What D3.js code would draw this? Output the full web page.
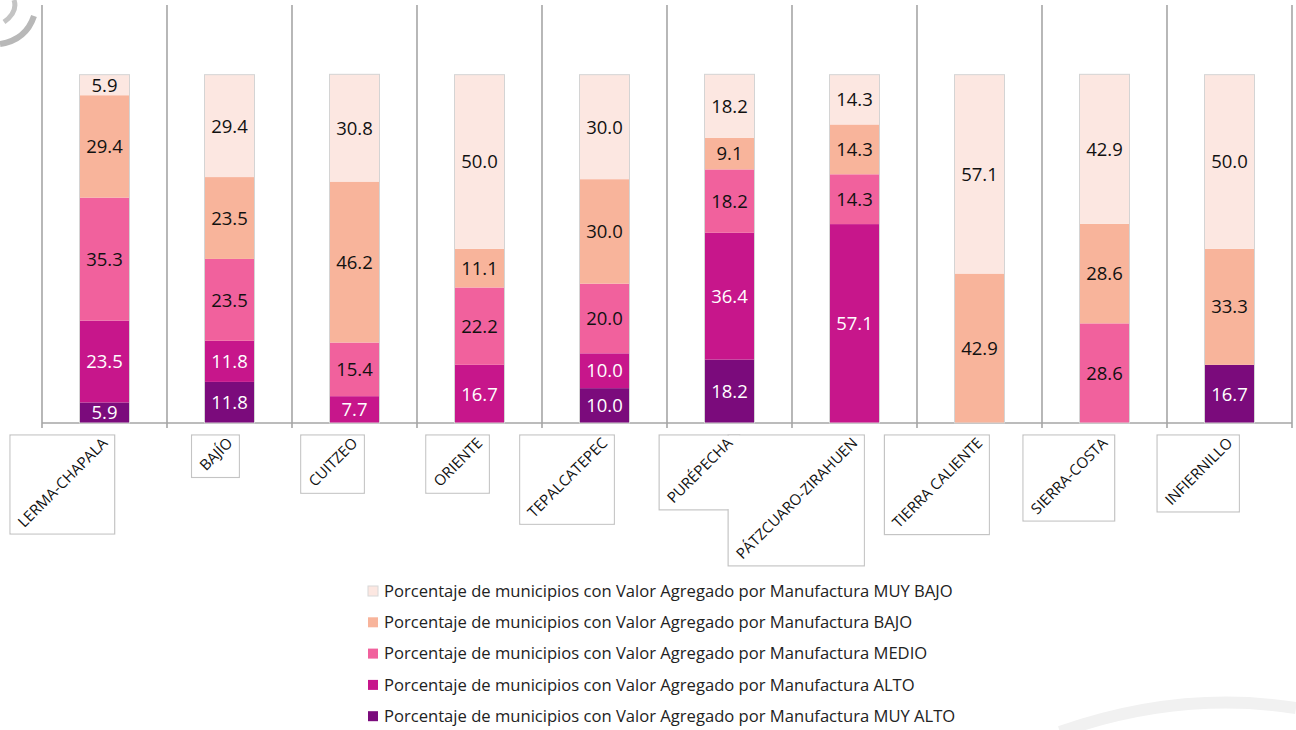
<!DOCTYPE html>
<html>
<head>
<meta charset="utf-8">
<script src="https://cdn.jsdelivr.net/npm/d3@7"></script>
<style>
  body { margin: 0; background: #ffffff; }
  svg { display: block; }
</style>
</head>
<body>
<svg id="chart" width="1296" height="730"></svg>
<script>
// Regions of Michoacán and share of municipalities (%) by manufacturing value-added level
const regions = ["LERMA-CHAPALA", "BAJÍO", "CUITZEO", "ORIENTE", "TEPALCATEPEC",
                 "PURÉPECHA", "PÁTZCUARO-ZIRAHUEN", "TIERRA CALIENTE", "SIERRA-COSTA", "INFIERNILLO"];
const muyAlto = [5.9, 11.8, 0, 0, 10.0, 18.2, 0, 0, 0, 16.7];
const alto    = [23.5, 11.8, 7.7, 16.7, 10.0, 36.4, 57.1, 0, 0, 0];
const medio   = [35.3, 23.5, 15.4, 22.2, 20.0, 18.2, 14.3, 0, 28.6, 0];
const bajo    = [29.4, 23.5, 46.2, 11.1, 30.0, 9.1, 14.3, 42.9, 28.6, 33.3];
const muyBajo = [5.9, 29.4, 30.8, 50.0, 30.0, 18.2, 14.3, 57.1, 42.9, 50.0];

const levels = ["MUY ALTO", "ALTO", "MEDIO", "BAJO", "MUY BAJO"];
const levelColors = ["#7b0b7c", "#c7168b", "#f1619d", "#f8b49b", "#fce7e1"];
const labelInk = ["#ffffff", "#ffffff", "#111111", "#111111", "#111111"];
const legendPrefix = "Porcentaje de municipios con Valor Agregado por Manufactura ";

const rows = regions.map((r, i) => ({
  region: r,
  "MUY ALTO": muyAlto[i], "ALTO": alto[i], "MEDIO": medio[i], "BAJO": bajo[i], "MUY BAJO": muyBajo[i]
}));

const svg = d3.select("#chart");
const FONT = "'Open Sans', 'Noto Sans', sans-serif";

const x = d3.scaleBand().domain(regions).range([42, 1292]).paddingInner(0.6).paddingOuter(0.3);
const y = d3.scaleLinear().domain([0, 120]).range([423, 5]);
const color = d3.scaleOrdinal().domain(levels).range(levelColors);
const ink = d3.scaleOrdinal().domain(levels).range(labelInk);

// faint decorative marks (corner emblem and background swoosh)
const deco = svg.append("g").attr("fill", "none");
deco.append("path").attr("d", "M1060,732 Q1180,690 1296,708")
  .attr("stroke", "#f1f1f1").attr("stroke-width", 12);
deco.append("path").attr("d", "M0,44 Q26,40 34,16").attr("stroke", "#b8b8b8").attr("stroke-width", 6);
deco.append("path").attr("d", "M4,22 Q18,12 14,0").attr("stroke", "#c4c4c4").attr("stroke-width", 5);

// vertical category separators, extending below the baseline as ticks
const step = x.step();
const bounds = d3.range(regions.length + 1).map(i => x.range()[0] + i * step);
svg.append("g").selectAll("line").data(bounds).join("line")
  .attr("x1", d => d).attr("x2", d => d)
  .attr("y1", y(120)).attr("y2", y(0) + 5)
  .attr("stroke", "#a6a6a6").attr("stroke-width", 1.6);

// baseline
svg.append("line")
  .attr("x1", x.range()[0]).attr("x2", x.range()[1])
  .attr("y1", y(0)).attr("y2", y(0))
  .attr("stroke", "#a6a6a6").attr("stroke-width", 1.6);

// stacked bars
const series = d3.stack().keys(levels)(rows);
svg.append("g").selectAll("g").data(series).join("g")
  .attr("fill", d => color(d.key))
  .selectAll("rect").data(d => d).join("rect")
  .attr("x", d => x(d.data.region))
  .attr("width", x.bandwidth())
  .attr("y", d => y(d[1]))
  .attr("height", d => y(d[0]) - y(d[1]));

// bar outlines
const total = d => levels.reduce((s, k) => s + d[k], 0);
svg.append("g").selectAll("rect").data(rows).join("rect")
  .attr("x", d => x(d.region))
  .attr("width", x.bandwidth())
  .attr("y", d => y(total(d)))
  .attr("height", d => y(0) - y(total(d)))
  .attr("fill", "none").attr("stroke", "#d4d4d4").attr("stroke-width", 1);

// value labels
const gVals = svg.append("g").attr("font-family", FONT).attr("font-size", 18.5).attr("text-anchor", "middle");
series.forEach(s => {
  gVals.selectAll(null).data(s.filter(v => v[1] - v[0] > 0)).join("text")
    .attr("x", d => x(d.data.region) + x.bandwidth() / 2)
    .attr("y", d => y((d[0] + d[1]) / 2))
    .attr("dy", "0.36em")
    .attr("fill", ink(s.key))
    .text(d => (d[1] - d[0]).toFixed(1));
});

// rotated category labels inside framed boxes
const gCat = svg.append("g");
const boxLayer = gCat.append("g");
const fillLayer = gCat.append("g");
const textLayer = gCat.append("g").attr("font-family", FONT).attr("font-size", 15).attr("fill", "#111");
const catTexts = textLayer.selectAll("text").data(regions).join("text")
  .attr("text-anchor", "end")
  .attr("transform", d => `translate(${x(d) + x.bandwidth() / 2 + 4},${y(0) + 21}) rotate(-45)`)
  .text(d => d);

const boxes = [];
catTexts.each(function () {
  const r = this.getBoundingClientRect();
  boxes.push({ x0: r.left - 3, x1: r.right + 3, y0: y(0) + 12, y1: r.bottom + 3 });
});
boxLayer.selectAll("rect").data(boxes).join("rect")
  .attr("x", b => b.x0).attr("y", b => b.y0)
  .attr("width", b => b.x1 - b.x0).attr("height", b => b.y1 - b.y0)
  .attr("fill", "#ffffff").attr("stroke", "#c4c4c4").attr("stroke-width", 1.2);
fillLayer.selectAll("rect").data(boxes).join("rect")
  .attr("x", b => b.x0 + 0.8).attr("y", b => b.y0 + 0.8)
  .attr("width", b => b.x1 - b.x0 - 1.6).attr("height", b => b.y1 - b.y0 - 1.6)
  .attr("fill", "#ffffff");

// legend
const legendOrder = levels.slice().reverse();
const gLeg = svg.append("g").attr("font-family", FONT).attr("font-size", 16.6).attr("fill", "#222");
const legItems = gLeg.selectAll("g").data(legendOrder).join("g")
  .attr("transform", (d, i) => `translate(368,${591 + i * 31.3})`);
legItems.append("rect")
  .attr("x", 0).attr("y", -5).attr("width", 10).attr("height", 10)
  .attr("fill", d => color(d))
  .attr("stroke", d => d === "MUY BAJO" ? "#d8d8d8" : "none");
legItems.append("text")
  .attr("x", 16).attr("y", 0).attr("dy", "0.35em")
  .text(d => legendPrefix + d);
</script>
</body>
</html>
